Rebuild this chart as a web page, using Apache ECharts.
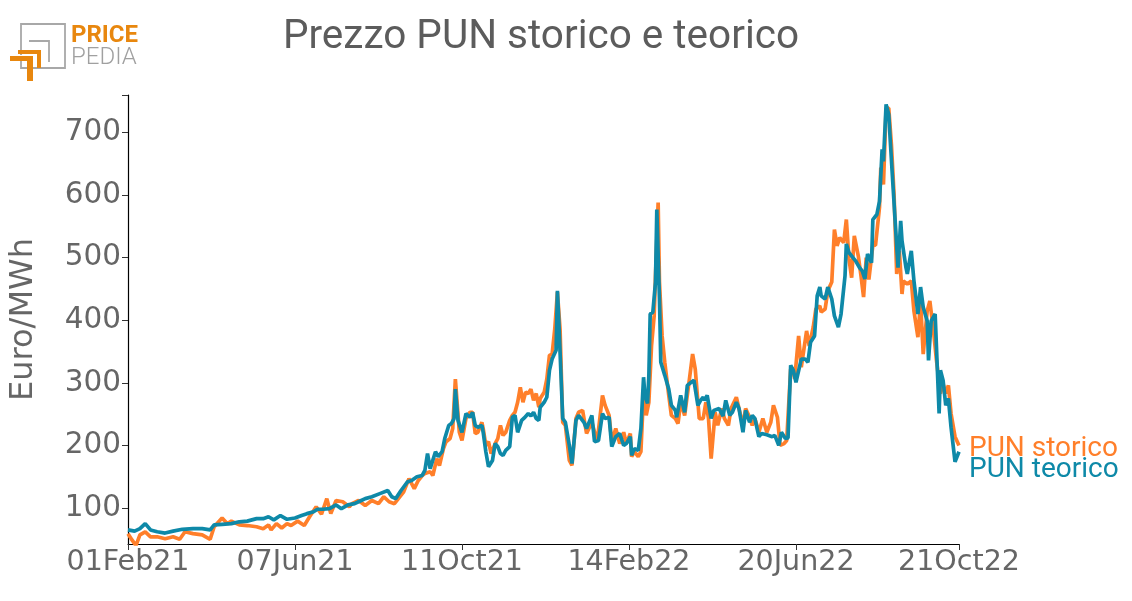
<!DOCTYPE html>
<html><head><meta charset="utf-8">
<script src="https://cdn.jsdelivr.net/npm/echarts@6/dist/echarts.min.js"></script>
<style>html,body{margin:0;padding:0;background:#fff}#c{width:1132px;height:601px}</style>
</head><body><div id="c"></div>
<script>
// days since 01 Feb 2021
const dayStorico = [0,3,6,9,13,17,22,28,34,39,43,49,56,62,65,71,75,78,84,90,97,102,106,108,112,116,120,123,128,133,137,142,146,150,153,157,162,167,169,174,179,184,189,193,197,201,204,208,212,216,219,222,224,228,230,233,235,238,240,243,245,247,250,252,255,258,260,262,264,267,268,270,272,274,277,279,281,283,285,288,290,292,294,296,298,300,302,304,306,308,310,311,314,316,318,320,322,324,326,328,330,333,335,338,340,343,346,350,354,358,360,363,365,368,371,374,376,379,380,382,385,387,389,391,393,395,397,398,400,401,403,405,408,410,413,415,417,420,423,426,428,431,434,436,438,440,443,445,448,450,453,455,459,461,464,466,469,471,473,476,479,482,485,487,490,492,495,497,500,502,503,506,508,512,514,517,519,522,523,526,528,531,533,535,537,540,542,544,546,548,551,553,555,557,559,562,564,567,568,570,572,574,576,578,580,582,584,585,588,591,593,596,598,600,603,605,608,610,613,615,617,619,621,624,627];
const valStorico = [59,49,40,57,62,54,54,51,54,50,62,59,57,50,70,84,75,79,73,72,70,67,73,65,75,68,75,72,79,72,86,102,90,115,91,112,110,102,107,112,104,112,107,118,110,107,115,126,147,131,144,152,155,158,152,179,168,195,206,211,227,306,221,208,243,253,253,219,221,237,227,200,206,187,203,211,232,216,221,240,248,253,269,293,269,285,283,290,272,283,261,275,285,306,344,346,386,445,386,237,232,176,168,243,253,256,219,237,206,280,264,248,206,227,203,221,203,219,182,190,182,190,285,248,269,359,407,471,588,461,375,333,280,248,243,235,269,248,296,346,322,243,243,269,243,179,253,232,259,243,232,259,277,259,232,259,245,232,243,221,243,221,237,264,245,200,203,208,322,322,306,375,325,383,359,389,418,423,413,418,447,461,545,519,532,524,561,498,468,535,503,472,437,500,465,520,520,580,644,617,739,739,681,601,474,511,442,463,458,463,415,373,431,346,415,431,378,336,283,298,283,296,251,214,200];
const dayTeorico = [0,1,5,9,13,17,22,28,34,41,49,56,62,65,71,78,84,90,97,102,106,110,115,120,126,131,135,140,143,147,152,157,161,166,171,176,179,184,190,196,199,202,206,211,214,218,222,224,226,228,232,234,237,239,242,244,246,247,249,252,253,255,258,260,262,264,267,268,270,272,275,277,279,281,283,285,288,290,292,294,297,299,302,304,306,308,310,311,314,316,318,320,323,324,325,328,330,333,335,338,340,344,346,350,352,355,358,360,363,365,368,371,374,376,379,380,382,385,387,389,390,392,393,394,396,398,399,401,402,405,408,410,413,414,417,420,422,425,427,430,432,434,435,437,440,442,446,449,451,454,456,459,461,464,466,469,471,473,476,478,482,486,488,491,493,496,498,500,502,504,508,511,513,515,518,520,522,523,526,528,531,533,536,538,541,542,544,547,549,552,554,556,558,561,562,565,567,569,570,572,574,575,577,579,581,583,584,587,588,591,593,596,598,600,603,604,606,609,612,613,615,617,619,621,624,625,627];
const valTeorico = [65,68,63,67,75,65,62,60,63,66,67,67,65,73,74,75,78,79,83,83,86,81,88,82,84,88,91,94,98,98,99,105,99,105,107,112,115,118,123,128,118,115,128,142,144,150,152,160,187,163,190,182,190,211,232,235,243,290,240,221,219,251,245,253,232,229,232,221,190,166,176,203,198,187,184,192,198,245,248,221,240,244,251,247,253,243,240,261,269,277,320,338,352,447,402,243,237,200,171,240,248,237,227,248,206,208,251,243,245,198,214,219,200,203,214,184,195,192,227,309,280,267,312,410,413,461,577,434,333,312,290,264,256,245,280,253,296,301,304,264,272,277,272,280,243,256,259,247,272,248,253,269,259,221,256,237,248,243,214,219,217,214,216,200,221,211,212,328,320,301,338,338,333,365,375,439,453,439,434,453,434,407,389,410,471,522,508,500,495,484,479,466,506,492,561,569,590,673,654,745,729,692,622,553,484,559,527,484,474,511,463,410,453,421,399,336,399,410,251,320,304,264,275,229,174,171,190];
const xTickDays = [0,126,252,378,504,627];
const xTickLabels = ['01Feb21','07Jun21','11Oct21','14Feb22','20Jun22','21Oct22'];
const yTicks = [100,200,300,400,500,600,700];

const ORANGE = '#ff7f2a', TEAL = '#0e89a8', GRAY = '#666666';
const zip = (d, v) => d.map((x, i) => [x, v[i]]);

const chart = echarts.init(document.getElementById('c'), null, {renderer: 'canvas'});
chart.setOption({
  animation: false,
  backgroundColor: '#fff',
  title: {
    text: 'Prezzo PUN storico e teorico', left: 536, top: 12, textAlign: 'center',
    textStyle: {fontFamily: 'Roboto', fontSize: 40.5, fontWeight: 'normal', color: '#5c5c5c'}
  },
  grid: {left: 120, right: 173, top: 95, bottom: 57, containLabel: false},
  xAxis: {
    type: 'value', min: 0, max: 627,
    splitLine: {show: false},
    axisLine: {show: true, lineStyle: {color: '#000', width: 1.2}},
    axisTick: {show: true, customValues: xTickDays, length: 6, lineStyle: {color: '#333'}},
    axisLabel: {
      customValues: xTickDays, color: GRAY, fontFamily: 'DejaVu Sans', fontSize: 28.5, margin: 4,
      formatter: v => xTickLabels[xTickDays.indexOf(v)] || ''
    }
  },
  yAxis: {
    type: 'value', min: 42.5, max: 760,
    name: 'Euro/MWh', nameLocation: 'middle', nameGap: 88, nameRotate: 90,
    nameTextStyle: {color: GRAY, fontFamily: 'DejaVu Sans', fontSize: 32},
    splitLine: {show: false},
    axisLine: {show: true, lineStyle: {color: '#000', width: 1.2}},
    axisTick: {show: true, customValues: yTicks.concat([760]), length: 6, lineStyle: {color: '#333'}},
    axisLabel: {customValues: yTicks, color: GRAY, fontFamily: 'DejaVu Sans', fontSize: 29.5, margin: 7}
  },
  series: [
    {
      name: 'PUN storico', type: 'line', showSymbol: false, z: 2,
      data: zip(dayStorico, valStorico),
      lineStyle: {color: ORANGE, width: 3.7}, itemStyle: {color: ORANGE},
      endLabel: {show: true, formatter: 'PUN storico', color: ORANGE, fontFamily: 'Roboto', fontSize: 28, offset: [2, 4]}
    },
    {
      name: 'PUN teorico', type: 'line', showSymbol: false, z: 3,
      data: zip(dayTeorico, valTeorico),
      lineStyle: {color: TEAL, width: 3.7}, itemStyle: {color: TEAL},
      endLabel: {show: true, formatter: 'PUN teorico', color: TEAL, fontFamily: 'Roboto', fontSize: 28, offset: [2, 18]}
    }
  ],
  graphic: [
    {type: 'rect', shape: {x: 21, y: 24, width: 44, height: 44}, style: {fill: 'none', stroke: '#a8a8a8', lineWidth: 1.8}},
    {type: 'polyline', shape: {points: [[29, 41], [49, 41], [49, 62]]}, style: {fill: 'none', stroke: '#a8a8a8', lineWidth: 1.8}},
    {type: 'rect', shape: {x: 10, y: 55, width: 22, height: 6}, style: {fill: '#ffffff'}},
    {type: 'polygon', shape: {points: [[18, 50], [41, 50], [41, 68], [37, 68], [37, 54], [18, 54]]}, style: {fill: '#e8870e'}},
    {type: 'polygon', shape: {points: [[10, 56], [33, 56], [33, 81], [27, 81], [27, 61], [10, 61]]}, style: {fill: '#e8870e'}},
    {type: 'text', left: 71, top: 24, style: {text: 'PRICE', fill: '#e8870e', font: 'bold 24px Roboto'}},
    {type: 'text', left: 71, top: 46, style: {text: 'PEDIA', fill: '#a0a0a0', font: '300 24px Roboto'}}
  ]
});
</script></body></html>
